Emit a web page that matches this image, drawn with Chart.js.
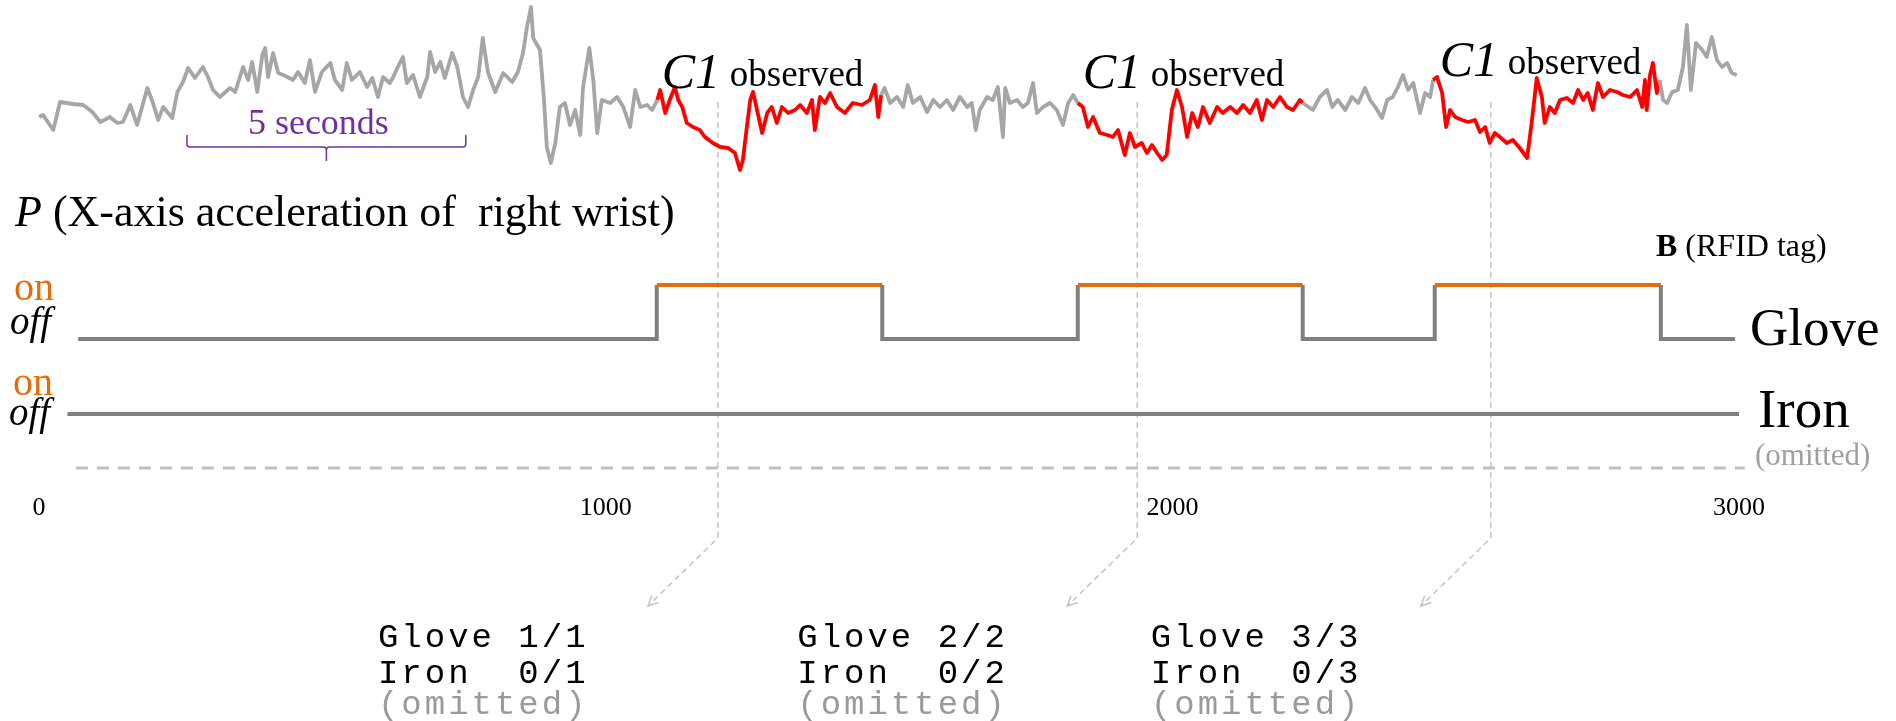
<!DOCTYPE html>
<html>
<head>
<meta charset="utf-8">
<script src="https://cdn.jsdelivr.net/npm/chart.js@4.4.1/dist/chart.umd.min.js"></script>
<style>
  html, body { margin: 0; padding: 0; background: #fff; }
  #wrap { width: 1896px; height: 721px; }
</style>
</head>
<body>
<div id="wrap"><canvas id="chart" width="1896" height="721"></canvas></div>
<script>
// P : x-axis acceleration of the right wrist (sample index, raw counts)
const sampleIdx = [0, 7, 25, 37, 60, 78, 94, 108, 125, 138, 148, 161, 173, 191, 201, 210, 219, 235, 244, 254,
  263, 275, 289, 298, 307, 319, 337, 346, 360, 369, 376, 385, 394, 399, 404, 413, 422, 431, 448, 457,
  469, 478, 487, 499, 514, 522, 535, 543, 552, 566, 579, 588, 598, 607, 619, 625, 633, 642, 649, 660,
  672, 685, 690, 699, 708, 716, 729, 738, 748, 757, 766, 775, 783, 792, 805, 819, 835, 845, 854, 861,
  868, 872, 884, 891, 896, 903, 911, 919, 928, 937, 946, 955, 960, 971, 978, 985, 993, 1008, 1020, 1031,
  1043, 1052, 1061, 1073, 1082, 1091, 1096, 1105, 1113, 1122, 1128, 1135, 1143, 1154, 1166, 1175, 1189, 1202, 1216, 1228,
  1237, 1242, 1249, 1255, 1260, 1267, 1276, 1285, 1293, 1302, 1311, 1322, 1334, 1343, 1355, 1364, 1369, 1378, 1387, 1396,
  1408, 1422, 1436, 1452, 1466, 1475, 1481, 1486, 1492, 1502, 1514, 1525, 1533, 1542, 1555, 1567, 1578, 1590, 1602, 1613,
  1625, 1638, 1646, 1653, 1660, 1673, 1683, 1692, 1701, 1705, 1713, 1726, 1736, 1745, 1754, 1761, 1772, 1784, 1796, 1807,
  1816, 1825, 1833, 1842, 1851, 1860, 1872, 1885, 1895, 1904, 1916, 1925, 1934, 1946, 1955, 1964, 1973, 1982, 1990, 1999,
  2008, 2017, 2026, 2035, 2045, 2054, 2066, 2079, 2089, 2102, 2114, 2125, 2137, 2149, 2158, 2167, 2178, 2190, 2202, 2213,
  2225, 2230, 2248, 2260, 2273, 2282, 2292, 2305, 2317, 2328, 2340, 2349, 2358, 2370, 2379, 2389, 2398, 2407, 2416, 2425,
  2437, 2446, 2455, 2460, 2467, 2476, 2483, 2490, 2499, 2511, 2522, 2534, 2543, 2552, 2560, 2569, 2578, 2590, 2601, 2613,
  2626, 2634, 2643, 2652, 2657, 2666, 2675, 2684, 2696, 2707, 2716, 2725, 2733, 2742, 2751, 2760, 2772, 2785, 2795, 2808,
  2820, 2829, 2834, 2837, 2843, 2848, 2855, 2860, 2866, 2873, 2882, 2892, 2901, 2908, 2915, 2924, 2935, 2943, 2952, 2961,
  2970, 2979, 2987, 2996];
const accelX = [3, 5, -10, 18, 16, 15, 8, -2, 3, -3, -2, 15, -5, 32, 17, 0, 13, 2, 28, 38,
  52, 42, 53, 43, 30, 23, 32, 28, 53, 40, 58, 28, 65, 72, 43, 67, 47, 45, 40, 48,
  37, 60, 28, 48, 57, 40, 30, 57, 40, 48, 33, 42, 23, 43, 37, 43, 53, 63, 37, 45,
  23, 43, 68, 48, 58, 42, 67, 53, 23, 13, 30, 43, 82, 48, 28, 47, 38, 48, 67, 93,
  113, 82, 70, 20, -27, -43, -23, 13, 17, -5, 10, -15, 33, 72, 40, -13, 20, 17, 23, 13,
  -7, 30, 13, 15, 10, 20, 30, 7, 20, 33, 20, 13, -3, -7, -10, -17, -23, -27, -28, -33,
  -50, -40, -7, 20, 28, 10, -13, 7, 13, -3, 13, 7, 10, 15, 7, 20, -10, 23, 17, 27,
  13, 7, 17, 15, 20, 35, 3, 25, 32, 17, 23, 13, 35, 17, 23, 8, 20, 13, 20, 10,
  23, 13, 17, -10, 10, 23, 20, 33, -17, 32, 17, 20, 13, 17, 37, 7, 13, 17, 10, -5,
  17, 25, 17, 13, -7, 3, -13, -15, -17, -10, -35, -13, -27, -23, -33, -25, -33, -40, -35, 10,
  30, 13, -17, 7, -7, 13, -3, 13, 7, 13, 7, 15, 7, 20, 0, 20, 13, 23, 13, 10,
  20, 17, 10, 23, 30, 13, 20, 10, 23, 17, 32, 20, 13, 2, 20, 23, 33, 45, 30, 37,
  7, 27, 23, 40, 43, 27, -7, 10, 3, 0, -2, 0, -12, -7, -23, -13, -17, -23, -20, -28,
  -38, -3, 42, 23, -3, 13, 7, 20, 22, 17, 30, 20, 27, 10, 37, 23, 30, 28, 25, 23,
  30, 13, 40, 10, 45, 57, 27, 40, 20, 17, 28, 30, 53, 95, 30, 77, 70, 63, 83, 60,
  53, 57, 47, 45];

// B : RFID tag readings, switch times and state after each switch (1 = on)
const gloveTimes = [69, 1090, 1488, 1833, 2230, 2463, 2862, 2993];
const gloveState = [0, 1, 0, 1, 0, 1, 0, 0];
const ironTimes = [50, 3000];
const ironState = [0, 0];
const omittedTimes = [65, 3010];

// moments where C1 is observed, and the 5 second span marked on P
const c1Times = [1198, 1938, 2562];
const fiveSeconds = [261, 753];
const xTicks = [0, 1000, 2000, 3000];
const summaries = [
  ['Glove 1/1', 'Iron  0/1', '(omitted)'],
  ['Glove 2/2', 'Iron  0/2', '(omitted)'],
  ['Glove 3/3', 'Iron  0/3', '(omitted)']
];

const H = 721;
const serif = '"Liberation Serif", "Times New Roman", serif';
const mono = '"Liberation Mono", "Courier New", monospace';
const purple = '#7030a0', red = '#ff0000', traceGrey = '#a6a6a6';
const laneGrey = '#7f7f7f', orange = '#e46c0a', dashGrey = '#c4c4c4';

// min/max of a hidden y axis so that value 0 lands on zeroPx
const lane = (zeroPx, pxPerUnit) => ({ min: -(H - zeroPx) / pxPerUnit, max: zeroPx / pxPerUnit });

const gloveOnAt = t => {
  let s = 0;
  gloveTimes.forEach((g, i) => { if (t >= g) s = gloveState[i]; });
  return s === 1;
};

const stepPoints = (times, states) => {
  const pts = [];
  times.forEach((t, i) => {
    if (i > 0 && states[i] !== states[i - 1]) pts.push({ x: t, y: states[i - 1] });
    pts.push({ x: t, y: states[i] });
  });
  return pts;
};

const drawRuns = (ctx, x, y, runs) => {
  let cx = x;
  runs.forEach(([text, font, color]) => {
    ctx.font = font;
    ctx.fillStyle = color;
    ctx.fillText(text, cx, y);
    cx += ctx.measureText(text).width;
  });
};

const notes = {
  id: 'notes',
  beforeDatasetsDraw(chart) {
    const { ctx, scales: { x } } = chart;
    ctx.save();
    ctx.strokeStyle = dashGrey;
    ctx.lineWidth = 1.5;
    c1Times.forEach(t => {
      const px = x.getPixelForValue(t);
      const tipX = px - 70, tipY = 606;
      ctx.setLineDash([6, 4]);
      ctx.beginPath();
      ctx.moveTo(px, 102);
      ctx.lineTo(px, 538);
      ctx.lineTo(tipX, tipY);
      ctx.stroke();
      ctx.setLineDash([]);
      const a = Math.atan2(538 - tipY, px - tipX);
      ctx.beginPath();
      ctx.moveTo(tipX + 11 * Math.cos(a + 0.45), tipY + 11 * Math.sin(a + 0.45));
      ctx.lineTo(tipX, tipY);
      ctx.lineTo(tipX + 11 * Math.cos(a - 0.45), tipY + 11 * Math.sin(a - 0.45));
      ctx.stroke();
    });
    ctx.restore();
  },
  afterDatasetsDraw(chart) {
    const { ctx, scales: { x, yGlove, yIron, yOmit } } = chart;
    const gOff = yGlove.getPixelForValue(0), gOn = yGlove.getPixelForValue(1);
    const iOff = yIron.getPixelForValue(0), om = yOmit.getPixelForValue(0);
    ctx.save();
    ctx.textBaseline = 'alphabetic';

    // 5 seconds brace
    const b0 = x.getPixelForValue(fiveSeconds[0]), b1 = x.getPixelForValue(fiveSeconds[1]);
    const bm = (b0 + b1) / 2;
    ctx.strokeStyle = purple;
    ctx.lineWidth = 1.5;
    ctx.beginPath();
    ctx.moveTo(b0, 135); ctx.lineTo(b0, 144); ctx.quadraticCurveTo(b0, 147, b0 + 3, 147);
    ctx.lineTo(bm - 3, 147); ctx.quadraticCurveTo(bm, 147, bm, 150); ctx.lineTo(bm, 161);
    ctx.moveTo(bm, 150); ctx.quadraticCurveTo(bm, 147, bm + 3, 147);
    ctx.lineTo(b1 - 3, 147); ctx.quadraticCurveTo(b1, 147, b1, 144); ctx.lineTo(b1, 135);
    ctx.stroke();
    ctx.textAlign = 'center';
    ctx.font = `36px ${serif}`;
    ctx.fillStyle = purple;
    ctx.fillText('5 seconds', bm - 8, 134);

    ctx.textAlign = 'left';
    // C1 observed labels at each glove pick-up
    const c1Base = [88, 88, 76];
    gloveTimes.filter((t, i) => gloveState[i] === 1).forEach((t, k) => {
      const px = x.getPixelForValue(t) + 5;
      drawRuns(ctx, px, c1Base[k], [['C1', `italic 50px ${serif}`, '#000']]);
      drawRuns(ctx, px + 68, c1Base[k] - 2, [['observed', `37px ${serif}`, '#000']]);
    });

    drawRuns(ctx, 15, 226, [['P', `italic 44px ${serif}`, '#000'],
      [' (X-axis acceleration of  right wrist)', `44px ${serif}`, '#000']]);
    drawRuns(ctx, 1656, gOn - 29, [['B', `bold 32px ${serif}`, '#000'], [' (RFID tag)', `32px ${serif}`, '#000']]);

    // lane labels
    drawRuns(ctx, 14, gOn + 15, [['on', `40px ${serif}`, orange]]);
    drawRuns(ctx, 10, gOff - 5, [['off', `italic 39px ${serif}`, '#000']]);
    drawRuns(ctx, 13, iOff - 19, [['on', `40px ${serif}`, orange]]);
    drawRuns(ctx, 9, iOff + 11, [['off', `italic 39px ${serif}`, '#000']]);
    drawRuns(ctx, 1750, gOff + 6, [['Glove', `53px ${serif}`, '#000']]);
    drawRuns(ctx, 1758, iOff + 13, [['Iron', `55px ${serif}`, '#000']]);
    drawRuns(ctx, 1755, om - 3, [['(omitted)', `31px ${serif}`, '#a0a0a0']]);

    // per-event summaries
    const colors = ['#000', '#000', '#9a9a9a'];
    const lines = [647, 683, 714];
    ctx.letterSpacing = '3px';
    summaries.forEach((block, k) => {
      const left = x.getPixelForValue(c1Times[k]) - 340;
      block.forEach((txt, j) => drawRuns(ctx, left, lines[j], [[txt, `34px ${mono}`, colors[j]]]));
    });
    ctx.letterSpacing = '0px';
    ctx.restore();
  }
};

new Chart(document.getElementById('chart').getContext('2d'), {
  type: 'line',
  data: {
    datasets: [
      {
        data: sampleIdx.map((t, i) => ({ x: t, y: accelX[i] })),
        yAxisID: 'yAcc',
        borderColor: traceGrey,
        borderWidth: 3.8,
        borderJoinStyle: 'round',
        pointRadius: 0,
        segment: {
          borderColor: c => gloveOnAt((c.p0.parsed.x + c.p1.parsed.x) / 2) ? red : traceGrey
        }
      },
      {
        data: stepPoints(gloveTimes, gloveState),
        yAxisID: 'yGlove',
        borderColor: laneGrey,
        borderWidth: 4,
        pointRadius: 0,
        segment: {
          borderColor: c => (c.p0.parsed.y === 1 && c.p1.parsed.y === 1) ? orange : laneGrey
        }
      },
      {
        data: stepPoints(ironTimes, ironState),
        yAxisID: 'yIron',
        borderColor: laneGrey,
        borderWidth: 4,
        pointRadius: 0
      },
      {
        data: omittedTimes.map(t => ({ x: t, y: 0 })),
        yAxisID: 'yOmit',
        borderColor: '#c0c0c0',
        borderWidth: 3,
        borderDash: [12, 9],
        pointRadius: 0
      }
    ]
  },
  options: {
    responsive: false,
    animation: false,
    events: [],
    layout: { padding: 0 },
    plugins: { legend: { display: false }, tooltip: { enabled: false } },
    scales: {
      x: {
        type: 'linear',
        min: -69,
        max: 3277,
        position: { yOmit: -0.4 },
        grid: { display: false, drawTicks: false },
        border: { display: false },
        afterBuildTicks: axis => { axis.ticks = xTicks.map(v => ({ value: v })); },
        ticks: {
          autoSkip: false,
          maxRotation: 0,
          padding: 3,
          color: '#000',
          font: { family: serif, size: 26 },
          callback: v => String(v)
        }
      },
      yAcc: { display: false, ...lane(120, 1) },
      yGlove: { display: false, ...lane(339, 54) },
      yIron: { display: false, ...lane(414, 54) },
      yOmit: { display: false, ...lane(468, 54) }
    }
  },
  plugins: [notes]
});
</script>
</body>
</html>
